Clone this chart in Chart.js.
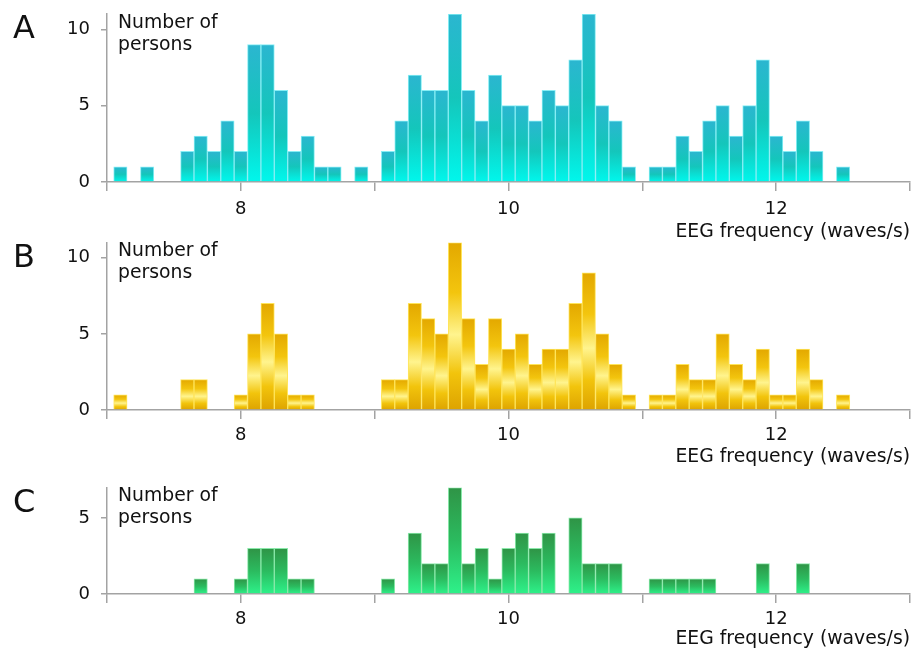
<!DOCTYPE html>
<html>
<head>
<meta charset="utf-8">
<script src="https://cdn.jsdelivr.net/npm/chart.js@4/dist/chart.umd.min.js"></script>
<style>
  html, body { margin: 0; padding: 0; background: #ffffff; }
  #wrap { position: relative; width: 918px; height: 654px; overflow: hidden; }
  #wrap canvas { position: absolute; left: 0; }
</style>
</head>
<body>
<div id="wrap">
  <canvas id="panelA" width="918" height="243" style="top:0px"></canvas>
  <canvas id="panelB" width="918" height="228" style="top:240px"></canvas>
  <canvas id="panelC" width="918" height="180" style="top:470px"></canvas>
</div>
<script>
// EEG frequency bins (waves/s), 0.1 wide
const frequencyBins = [
  7.1, 7.2, 7.3, 7.4, 7.5, 7.6, 7.7, 7.8, 7.9, 8.0,
  8.1, 8.2, 8.3, 8.4, 8.5, 8.6, 8.7, 8.8, 8.9, 9.0,
  9.1, 9.2, 9.3, 9.4, 9.5, 9.6, 9.7, 9.8, 9.9, 10.0,
  10.1, 10.2, 10.3, 10.4, 10.5, 10.6, 10.7, 10.8, 10.9, 11.0,
  11.1, 11.2, 11.3, 11.4, 11.5, 11.6, 11.7, 11.8, 11.9, 12.0,
  12.1, 12.2, 12.3, 12.4, 12.5
];

// Number of persons in each bin
const personsA = [
  1, 0, 1, 0, 0, 2, 3, 2, 4, 2,
  9, 9, 6, 2, 3, 1, 1, 0, 1, 0,
  2, 4, 7, 6, 6, 11, 6, 4, 7, 5,
  5, 4, 6, 5, 8, 11, 5, 4, 1, 0,
  1, 1, 3, 2, 4, 5, 3, 5, 8, 3,
  2, 4, 2, 0, 1
];
const personsB = [
  1, 0, 0, 0, 0, 2, 2, 0, 0, 1,
  5, 7, 5, 1, 1, 0, 0, 0, 0, 0,
  2, 2, 7, 6, 5, 11, 6, 3, 6, 4,
  5, 3, 4, 4, 7, 9, 5, 3, 1, 0,
  1, 1, 3, 2, 2, 5, 3, 2, 4, 1,
  1, 4, 2, 0, 1
];
const personsC = [
  0, 0, 0, 0, 0, 0, 1, 0, 0, 1,
  3, 3, 3, 1, 1, 0, 0, 0, 0, 0,
  1, 0, 4, 2, 2, 7, 2, 3, 1, 3,
  4, 3, 4, 0, 5, 2, 2, 2, 0, 0,
  1, 1, 1, 1, 1, 0, 0, 0, 2, 0,
  0, 2, 0, 0, 0
];

// Axis ticks and labels
const xTickValues = [7, 8, 9, 10, 11, 12, 13];
const xTickLabels = ['', '8', '', '10', '', '12', ''];
const yTicksTall = [0, 5, 10];
const yTicksShort = [0, 5];
const xTitle = 'EEG frequency (waves/s)';
const yTitleLines = ['Number of', 'persons'];
const panelLetters = ['A', 'B', 'C'];

const FONT = "'DejaVu Sans', Verdana, sans-serif";
const LABEL_SIZE = 18.8;
const AXIS_GREY = '#a3a3a3';
Chart.defaults.font.family = FONT;
Chart.defaults.font.size = 18;
Chart.defaults.color = '#111111';

// Per-bar vertical gradient running from the bar's top down to zero
function barGradient(stops) {
  return (ctx) => {
    const chart = ctx.chart;
    if (ctx.type !== 'data' || !chart.chartArea || !ctx.parsed) return stops[0][1];
    const yScale = chart.scales.y;
    const top = yScale.getPixelForValue(ctx.parsed.y);
    const base = yScale.getPixelForValue(0);
    if (!isFinite(top) || Math.abs(base - top) < 0.5) return stops[0][1];
    const g = chart.ctx.createLinearGradient(0, top, 0, base);
    stops.forEach(([o, c]) => g.addColorStop(o, c));
    return g;
  };
}

// Corner letter and the in-plot y label
const panelText = {
  id: 'panelText',
  afterDraw(chart, args, opts) {
    const { ctx, chartArea } = chart;
    ctx.save();
    ctx.fillStyle = '#111111';
    ctx.textAlign = 'left';
    ctx.textBaseline = 'alphabetic';
    ctx.font = `32px ${FONT}`;
    ctx.fillText(opts.letter, 13, chartArea.top + 24.3);
    ctx.font = `${LABEL_SIZE}px ${FONT}`;
    ctx.fillText(yTitleLines[0], chartArea.left + 11, chartArea.top + 13.6);
    ctx.fillText(yTitleLines[1], chartArea.left + 11, chartArea.top + 35.8);
    ctx.restore();
  }
};

const panels = [
  {
    canvas: 'panelA', letter: panelLetters[0], counts: personsA, yMax: 11, yTicks: yTicksTall,
    padTop: 14, axisHeight: 61, tickPad: 8,
    stops: [[0, '#2bb6d0'], [0.5, '#14c6bb'], [1, '#00f7ec']], border: '#86eef4'
  },
  {
    canvas: 'panelB', letter: panelLetters[1], counts: personsB, yMax: 11, yTicks: yTicksTall,
    padTop: 2.5, axisHeight: 58, tickPad: 5.5,
    stops: [[0, '#e3a800'], [0.3, '#f3c50e'], [0.55, '#fff48e'], [0.78, '#f2c40c'], [1, '#dda300']], border: '#ffe55a'
  },
  {
    canvas: 'panelC', letter: panelLetters[2], counts: personsC, yMax: 7, yTicks: yTicksShort,
    padTop: 17.5, axisHeight: 56, tickPad: 6,
    stops: [[0, '#2f9446'], [0.5, '#2bbb5f'], [1, '#2ef28a']], border: '#8ae9aa'
  }
];

panels.forEach((p) => {
  new Chart(document.getElementById(p.canvas), {
    type: 'bar',
    data: {
      datasets: [{
        data: frequencyBins.map((f, i) => ({ x: f, y: p.counts[i] })),
        backgroundColor: barGradient(p.stops),
        borderColor: p.border,
        borderWidth: 1,
        borderSkipped: 'start',
        barPercentage: 1,
        categoryPercentage: 1
      }]
    },
    options: {
      responsive: false,
      animation: false,
      events: [],
      layout: { padding: { top: p.padTop, left: 0, right: 8, bottom: 0 } },
      plugins: {
        legend: { display: false },
        tooltip: { enabled: false },
        panelText: { letter: p.letter }
      },
      scales: {
        x: {
          type: 'linear',
          min: 7,
          max: 13,
          offset: false,
          z: 1,
          afterBuildTicks: (s) => { s.ticks = xTickValues.map((v) => ({ value: v })); },
          afterFit: (s) => { s.height = p.axisHeight; s.paddingLeft = 0; s.paddingRight = 0; },
          ticks: {
            autoSkip: false,
            maxRotation: 0,
            padding: p.tickPad,
            callback: (v) => { const i = xTickValues.indexOf(v); return i >= 0 ? xTickLabels[i] : ''; }
          },
          grid: {
            offset: false,
            drawOnChartArea: false,
            drawTicks: true,
            tickLength: 9,
            color: AXIS_GREY,
            lineWidth: 1.5
          },
          border: { display: true, color: AXIS_GREY, width: 1.5 },
          title: {
            display: true,
            text: xTitle,
            align: 'end',
            padding: { top: 0, bottom: 0 },
            font: { size: LABEL_SIZE }
          }
        },
        y: {
          min: 0,
          max: p.yMax,
          afterBuildTicks: (s) => { s.ticks = p.yTicks.map((v) => ({ value: v })); },
          afterFit: (s) => { s.width = 107; s.paddingTop = 0; s.paddingBottom = 0; },
          ticks: { padding: 11 },
          grid: {
            drawOnChartArea: false,
            drawTicks: true,
            tickLength: 6,
            color: AXIS_GREY,
            lineWidth: 1.5
          },
          border: { display: true, color: AXIS_GREY, width: 1.5 }
        }
      }
    },
    plugins: [panelText]
  });
});
</script>
</body>
</html>
